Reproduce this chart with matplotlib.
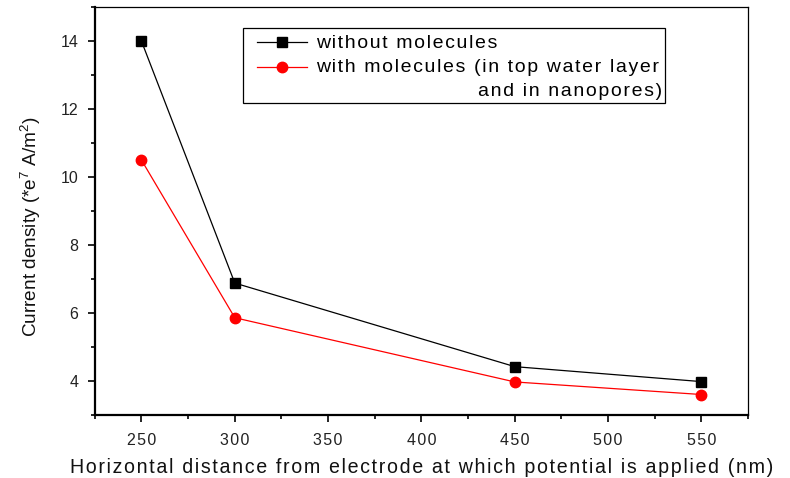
import matplotlib
matplotlib.use("Agg")
import matplotlib.pyplot as plt
from matplotlib.ticker import MultipleLocator
from matplotlib.lines import Line2D
from matplotlib.patches import Rectangle

# data
distance = [250, 300, 450, 550]
without_mol = [14.0, 6.88, 4.42, 3.98]
with_mol = [10.5, 5.86, 3.97, 3.6]

plt.rcParams['font.family'] = ['Liberation Sans', 'DejaVu Sans']
plt.rcParams['mathtext.default'] = 'regular'

W, H = 790, 478
HS = '\u200a'

def spaced(s):
    # the original uses wide letter spacing
    return HS.join(s)

def fx(px):
    return px / W

def fy(py):
    return 1 - py / H

fig = plt.figure(figsize=(W / 100, H / 100), dpi=100)
ax = fig.add_axes([0.120, 0.132, 0.827, 0.853])

ax.plot(distance, without_mol, '-', color='black', lw=0.9,
        marker='s', ms=7, mfc='black', mec='black')
ax.plot(distance, with_mol, '-', color='red', lw=0.9,
        marker='o', ms=7.5, mfc='red', mec='red')

ax.set_xlim(225, 575)
ax.set_ylim(3, 15)
ax.xaxis.set_major_locator(MultipleLocator(50))
ax.xaxis.set_minor_locator(MultipleLocator(25))
ax.yaxis.set_major_locator(MultipleLocator(2))
ax.yaxis.set_minor_locator(MultipleLocator(1))

ax.tick_params(which='both', direction='out', top=False, right=False,
               labelsize=11.5, labelcolor='#222222', width=1.2)
ax.tick_params(which='major', length=5)
ax.tick_params(which='minor', length=3)
ax.tick_params(axis='x', pad=8)
ax.tick_params(axis='y', pad=7)
xt = [250, 300, 350, 400, 450, 500, 550]
ax.set_xticks(xt)
ax.set_xticklabels([spaced(str(v)) for v in xt])
ax.set_xlim(225, 575)

for side in ['left', 'bottom']:
    ax.spines[side].set_linewidth(1.6)
for side in ['top', 'right']:
    ax.spines[side].set_linewidth(0.9)

ax.set_xlabel(spaced('Horizontal distance from electrode at which potential is applied (nm)'),
              fontsize=14.1, color='#111111', va='top')
ax.xaxis.set_label_coords(0.5, -0.106)
ax.set_ylabel('Current density (*e$^7$ A/m$^2$)', fontsize=13.7, color='#111111')
ax.yaxis.set_label_coords(-0.08, 0.462)

# legend box drawn by hand so the second entry can wrap right-aligned
fig.patches.append(Rectangle((fx(243), fy(103)), fx(665) - fx(243), fy(28) - fy(103),
                             transform=fig.transFigure, fill=True, facecolor='white',
                             edgecolor='black', lw=0.9, zorder=5))
rows = [(42, 'black', 's', 7, spaced('without molecules')),
        (67, 'red', 'o', 7.5, spaced('with molecules (in top water layer'))]
for y, c, m, s, txt in rows:
    fig.lines.append(Line2D([fx(257), fx(307)], [fy(y), fy(y)], color=c, lw=0.9,
                            transform=fig.transFigure, zorder=6))
    fig.lines.append(Line2D([fx(282)], [fy(y)], color=c, marker=m, ms=s,
                            transform=fig.transFigure, zorder=7))
    fig.text(fx(316), fy(y + 1), txt, fontsize=14, va='center', ha='left', zorder=7)
fig.text(fx(662), fy(92), spaced('and in nanopores)'), fontsize=14, va='center', ha='right', zorder=7)

fig.savefig('out.png', dpi=100)
